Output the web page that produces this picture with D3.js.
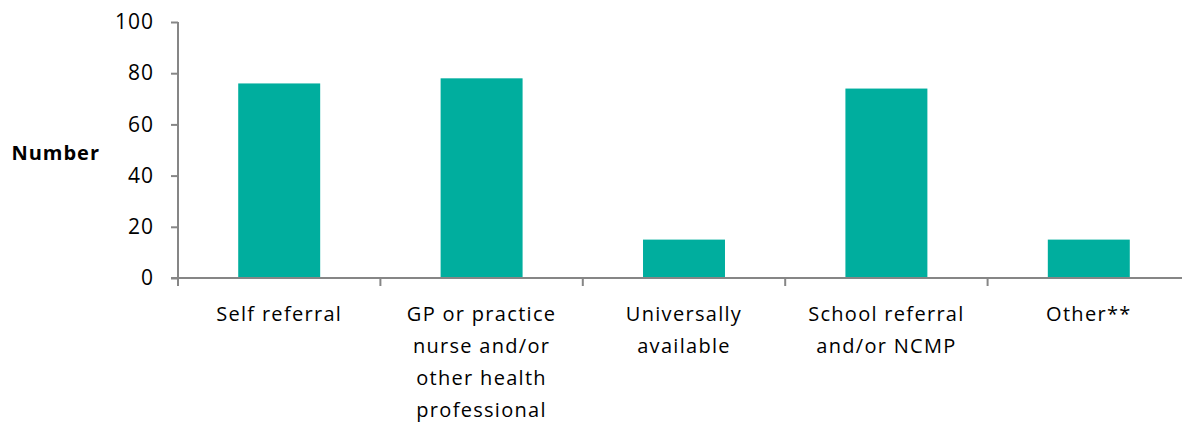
<!DOCTYPE html>
<html>
<head>
<meta charset="utf-8">
<script src="https://cdn.jsdelivr.net/npm/d3@7"></script>
<style>
  body { margin: 0; background: #fff; }
  svg { display: block; font-family: "Open Sans", Lato, sans-serif; }
</style>
</head>
<body>
<svg id="chart" width="1182" height="423"></svg>
<script>
const categories = [
  ["Self referral"],
  ["GP or practice", "nurse and/or", "other health", "professional"],
  ["Universally", "available"],
  ["School referral", "and/or NCMP"],
  ["Other**"]
];
const values = [76, 78, 15, 74, 15];
const yTicks = [0, 20, 40, 60, 80, 100];

const svg = d3.select("#chart");
const plotLeft = 178, plotRight = 1190, plotTop = 22, plotBottom = 278;
const axisColor = "#868686";

const keys = categories.map(c => c.join(" "));

const x = d3.scaleBand()
    .domain(keys)
    .range([plotLeft, plotRight])
    .padding(0);

const y = d3.scaleLinear()
    .domain([0, 100])
    .range([plotBottom, plotTop]);

// Bars
const barW = x.bandwidth() * 0.405;
svg.selectAll(".bar")
  .data(values)
  .enter()
  .append("rect")
  .attr("class", "bar")
  .attr("x", (d, i) => x(keys[i]) + (x.bandwidth() - barW) / 2)
  .attr("y", d => y(d))
  .attr("width", barW)
  .attr("height", d => plotBottom - y(d))
  .attr("fill", "#00ae9e");

// Y axis
const yAxis = svg.append("g")
  .attr("transform", `translate(${plotLeft},0)`)
  .call(d3.axisLeft(y).tickValues(yTicks).tickSize(7).tickPadding(17).tickSizeOuter(0));
yAxis.attr("font-family", null).attr("font-size", null);
yAxis.select(".domain").remove();
yAxis.selectAll("line").attr("stroke", axisColor).attr("stroke-width", 2);
yAxis.selectAll("text")
  .attr("fill", "#000")
  .style("font-size", "21px")
  .style("letter-spacing", "1px");
svg.append("line")
  .attr("x1", plotLeft).attr("x2", plotLeft)
  .attr("y1", plotTop).attr("y2", plotBottom + 8)
  .attr("stroke", axisColor).attr("stroke-width", 2);

// X axis line and boundary ticks
svg.append("line")
  .attr("x1", plotLeft - 7).attr("x2", plotRight)
  .attr("y1", plotBottom).attr("y2", plotBottom)
  .attr("stroke", axisColor).attr("stroke-width", 2);
svg.selectAll(".xtick")
  .data(keys)
  .enter()
  .append("line")
  .attr("x1", d => x(d)).attr("x2", d => x(d))
  .attr("y1", plotBottom).attr("y2", plotBottom + 8)
  .attr("stroke", axisColor).attr("stroke-width", 2);

// Category labels
const labels = svg.selectAll(".xlabel")
  .data(categories)
  .enter()
  .append("text")
  .attr("class", "xlabel")
  .attr("text-anchor", "middle")
  .style("font-size", "20px")
  .style("letter-spacing", "1.3px")
  .attr("fill", "#000");
labels.selectAll("tspan")
  .data((d, i) => d.map(line => ({ line, key: keys[i] })))
  .enter()
  .append("tspan")
  .attr("x", d => x(d.key) + x.bandwidth() / 2)
  .attr("y", (d, j) => 321 + j * 32)
  .text(d => d.line);

// Y axis title
svg.append("text")
  .attr("x", 100)
  .attr("y", 160)
  .attr("text-anchor", "end")
  .style("font-size", "20px")
  .style("font-weight", "bold")
  .style("letter-spacing", "1px")
  .attr("fill", "#000")
  .text("Number");
</script>
</body>
</html>
